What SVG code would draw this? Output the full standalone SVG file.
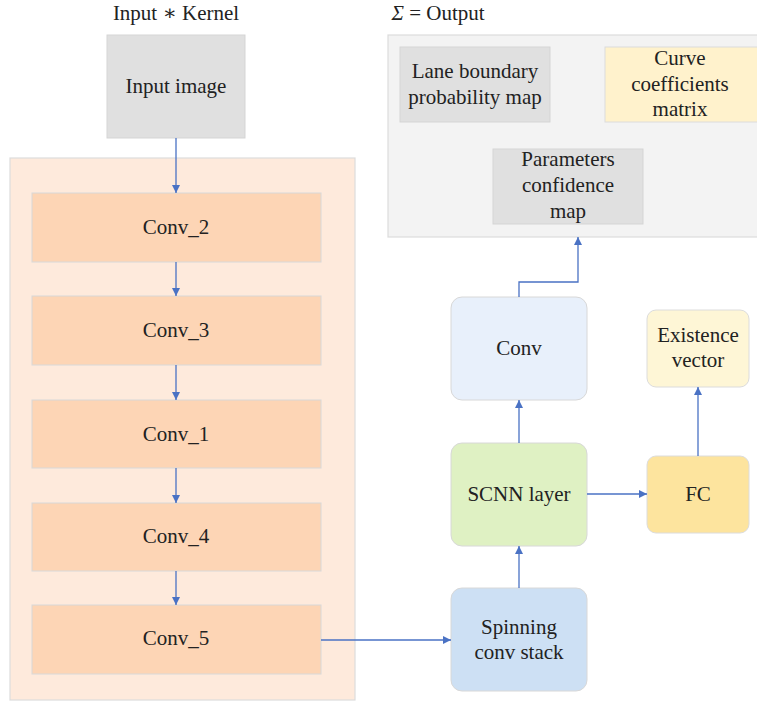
<svg xmlns="http://www.w3.org/2000/svg" width="757" height="703" viewBox="0 0 757 703">
<style>
text{font-size:21px;fill:#222;text-anchor:middle}
.conv{fill:#fdd5b5;stroke:#d8d8d8;stroke-width:1}
.c{fill:none;stroke:#4a72c4;stroke-width:1.3}
</style>
<defs>
<marker id="ah" viewBox="0 0 10 10" refX="10" refY="5" markerWidth="8" markerHeight="8" markerUnits="userSpaceOnUse" orient="auto">
<path d="M0,0L10,5L0,10z" fill="#4a72c4"/>
</marker>
</defs>
<rect width="757" height="703" fill="#fff"/>
<g font-family="'Liberation Serif', 'DejaVu Serif', serif">
<text x="176" y="20">Input ∗ Kernel</text>
<text x="438" y="20"><tspan font-style="italic">Σ</tspan> = Output</text>

<g id="input"><rect x="107" y="35" width="138" height="103" fill="#e0e0e0" stroke="#d5d5d5"/><text x="176" y="93">Input image</text></g>

<g id="stack"><rect x="10" y="158" width="345" height="542" fill="#feeadc" stroke="#dcdcdc" stroke-width="1.2"/></g>
<g id="conv2"><rect class="conv" x="32" y="193" width="289" height="69"/><text x="176" y="234">Conv_2</text></g>
<g id="conv3"><rect class="conv" x="32" y="296" width="289" height="69"/><text x="176" y="337">Conv_3</text></g>
<g id="conv1"><rect class="conv" x="32" y="400" width="289" height="68"/><text x="176" y="441">Conv_1</text></g>
<g id="conv4"><rect class="conv" x="32" y="503" width="289" height="68"/><text x="176" y="543">Conv_4</text></g>
<g id="conv5"><rect class="conv" x="32" y="605" width="289" height="69"/><text x="176" y="645">Conv_5</text></g>

<g id="output"><rect x="388" y="35" width="380" height="202" fill="#f3f3f3" stroke="#dcdcdc" stroke-width="1.2"/></g>
<g id="lane"><rect x="400" y="47" width="150" height="75" fill="#e0e0e0" stroke="#d5d5d5"/><text x="475" y="78">Lane boundary</text><text x="475" y="104">probability map</text></g>
<g id="curve"><rect x="605" y="47" width="160" height="75" fill="#fff2cc" stroke="#dcdcdc"/><text x="680" y="65">Curve</text><text x="680" y="91">coefficients</text><text x="680" y="116">matrix</text></g>
<g id="params"><rect x="493" y="149" width="150" height="75" fill="#e0e0e0" stroke="#d5d5d5"/><text x="568" y="166">Parameters</text><text x="568" y="192">confidence</text><text x="568" y="218">map</text></g>

<g id="conv"><rect x="451" y="297" width="136" height="103" rx="11" fill="#e8f0fb" stroke="#d8d8d8"/><text x="519" y="355">Conv</text></g>
<g id="exist"><rect x="647" y="310" width="102" height="77" rx="9" fill="#fef6d6" stroke="#dcdcdc"/><text x="698" y="342">Existence</text><text x="698" y="367">vector</text></g>
<g id="scnn"><rect x="451" y="443" width="136" height="103" rx="11" fill="#dff1c3" stroke="#d8d8d8"/><text x="519" y="501">SCNN layer</text></g>
<g id="fc"><rect x="647" y="456" width="102" height="77" rx="9" fill="#fde49e" stroke="#dcdcdc"/><text x="698" y="501">FC</text></g>
<g id="spin"><rect x="451" y="588" width="136" height="103" rx="11" fill="#cde0f4" stroke="#d8d8d8"/><text x="519" y="634">Spinning</text><text x="519" y="659">conv stack</text></g>
</g>
<g id="connectors">
<path class="c" d="M176,138V193" marker-end="url(#ah)"/>
<path class="c" d="M176,262V296" marker-end="url(#ah)"/>
<path class="c" d="M176,365V400" marker-end="url(#ah)"/>
<path class="c" d="M176,468V503" marker-end="url(#ah)"/>
<path class="c" d="M176,571V605" marker-end="url(#ah)"/>
<path class="c" d="M321,640H451" marker-end="url(#ah)"/>
<path class="c" d="M519,588V546" marker-end="url(#ah)"/>
<path class="c" d="M519,443V400" marker-end="url(#ah)"/>
<path class="c" d="M587,494H647" marker-end="url(#ah)"/>
<path class="c" d="M698,456V387" marker-end="url(#ah)"/>
<path class="c" d="M519,297V282H578V237" marker-end="url(#ah)"/>
</g>
</svg>
